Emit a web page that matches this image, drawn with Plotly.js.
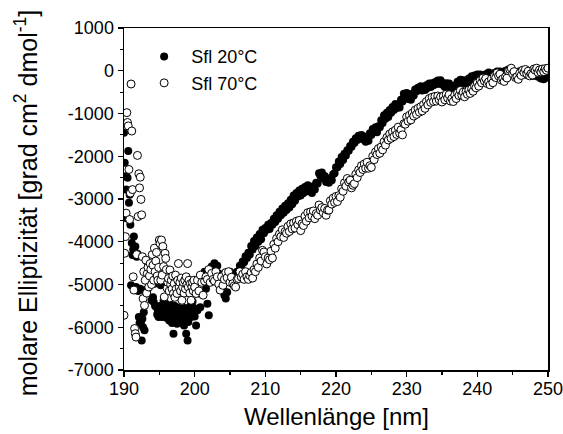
<!DOCTYPE html>
<html><head><meta charset="utf-8">
<script src="https://cdn.plot.ly/plotly-3.0.1.min.js"></script>
<style>html,body{margin:0;padding:0;background:#fff}#chart{width:563px;height:434px}</style>
</head><body><div id="chart"></div>
<script>
const seriesNames = ["Sfl 20°C", "Sfl 70°C"];
// wavelength grid of the measurement: 190–200 nm every 0.1 nm, 200.2–250 nm every 0.2 nm
const fineStart = 190, fineStep = 0.1;
const coarseStart = 200.2, coarseStep = 0.2;

const cd20Fine = [
-1450,-2150,-2470,-2780,-3450,-2500,-1880,-3090,-2900,-3600,
-5020,-4030,-4310,-4180,-3880,-4250,-4110,-5060,-4350,-4280,
-5150,-5760,-5900,-5100,-5880,-6310,-5800,-6000,-5650,-6070,
-5180,-5120,-5150,-5130,-4510,-4700,-4580,-4620,-4750,-5370,
-4820,-5300,-5410,-4980,-5500,-4780,-5530,-5700,-5650,-5760,
-5500,-5560,-5020,-5640,-5760,-5560,-5380,-5600,-5700,-5450,
-5780,-5640,-5520,-5700,-5840,-5600,-5750,-5480,-5900,-5650,
-6150,-5670,-5500,-5800,-5600,-5920,-5700,-5800,-5550,-5650,
-5850,-5600,-5760,-5900,-5700,-5960,-5550,-5800,-6150,-5700,
-6310,-5880,-5600,-5750,-5500,-5760,-5650,-5400,-5670,-5550,
-5750];
const cd20Coarse = [
-5960,-5600,-5210,-5530,-4780,-4900,-4700,-5100,-5450,-5720,
-4800,-4580,-4640,-4500,-4620,-4560,-4740,-4800,-4940,-5050,
-5250,-5330,-5180,-4760,-4700,-4840,-4780,-4860,-4820,-4700,
-4720,-4560,-4580,-4460,-4480,-4340,-4380,-4260,-4300,-4100,
-4180,-3980,-4100,-3900,-4000,-3820,-3940,-3720,-3800,-3680,
-3720,-3600,-3700,-3560,-3600,-3460,-3540,-3380,-3460,-3300,
-3380,-3220,-3320,-3160,-3260,-3100,-3200,-3020,-3120,-2920,
-3040,-2860,-2940,-2800,-2920,-2760,-2860,-2720,-2820,-2680,
-2820,-2740,-2860,-2700,-2780,-2620,-2640,-2400,-2460,-2380,
-2520,-2460,-2600,-2520,-2620,-2520,-2560,-2420,-2400,-2260,
-2260,-2120,-2180,-2020,-2090,-1940,-1980,-1860,-1870,-1760,
-1780,-1660,-1690,-1580,-1620,-1520,-1560,-1500,-1600,-1540,
-1660,-1600,-1640,-1460,-1500,-1360,-1380,-1320,-1440,-1300,
-1320,-1160,-1220,-1040,-1120,-980,-1080,-920,-980,-850,
-920,-780,-870,-800,-860,-680,-720,-540,-580,-520,
-660,-620,-680,-540,-580,-440,-480,-400,-440,-360,
-460,-400,-450,-340,-400,-300,-380,-290,-340,-270,
-310,-230,-300,-220,-320,-300,-380,-290,-350,-300,
-400,-360,-430,-350,-380,-260,-300,-210,-270,-220,
-300,-230,-270,-180,-220,-130,-180,-110,-160,-90,
-130,-90,-150,-120,-170,-80,-120,-40,-100,-80,
-120,-50,-90,-20,-60,-20,-90,-40,-70,0,
-40,30,-40,-20,-90,-60,-130,-50,-80,-10,
-40,20,-50,-20,-100,-50,-120,-80,-120,-40,
-110,-70,-140,-100,-180,-140,-200,-120,-160,-110];

const cd70Fine = [
-5720,-4270,-3880,-3330,-980,-1210,-1290,-2310,-3480,-2860,
-310,-1410,-2780,-4820,-5130,-6030,-6150,-6230,-4300,-1980,
-3410,-2410,-2740,-2490,-3010,-3370,-4350,-5330,-4700,-5490,
-4900,-4430,-5200,-4740,-4600,-5060,-4800,-4510,-4650,-5000,
-4300,-4550,-4900,-4150,-4700,-4450,-4250,-4800,-4900,-4600,
-3960,-4040,-4900,-3960,-4780,-4110,-4580,-5290,-4270,-4390,
-4650,-5090,-4950,-4860,-5150,-4660,-5000,-4900,-5100,-4800,
-5210,-4980,-5300,-4780,-5100,-5210,-4900,-4510,-5060,-4950,
-5150,-4850,-5370,-5060,-4950,-5200,-4900,-5100,-4820,-5000,
-4510,-5060,-4900,-5200,-4980,-5370,-5060,-4950,-5150,-4900,
-5060];
const cd70Coarse = [
-5210,-4900,-5150,-4780,-4950,-5250,-4920,-4820,-4880,-4650,
-4950,-4740,-4880,-4920,-4700,-4820,-4990,-5130,-4820,-5020,
-4880,-4720,-4840,-4700,-4950,-4830,-4980,-5030,-5060,-4880,
-4860,-4700,-4830,-4760,-4880,-4700,-4820,-4880,-4790,-4720,
-4850,-4650,-4700,-4520,-4600,-4380,-4450,-4200,-4240,-4350,
-4520,-4380,-4420,-4220,-4380,-4060,-4150,-3920,-4000,-3820,
-3880,-3720,-3900,-3760,-3800,-3640,-3760,-3580,-3700,-3560,
-3680,-3520,-3600,-3500,-3740,-3580,-3620,-3400,-3520,-3320,
-3440,-3300,-3400,-3280,-3460,-3340,-3380,-3140,-3260,-3200,
-3320,-3220,-3380,-3260,-3260,-3040,-3120,-2980,-3080,-2940,
-3060,-2920,-2960,-2760,-2820,-2620,-2700,-2520,-2600,-2560,
-2740,-2680,-2640,-2420,-2500,-2320,-2380,-2220,-2310,-2180,
-2280,-2140,-2280,-2220,-2260,-2000,-2080,-1900,-1960,-1820,
-1930,-1780,-1850,-1660,-1740,-1560,-1620,-1480,-1580,-1430,
-1540,-1390,-1490,-1320,-1460,-1380,-1500,-1240,-1250,-1080,
-1180,-1040,-1150,-990,-1060,-920,-1020,-880,-970,-840,
-940,-790,-880,-720,-800,-650,-740,-620,-720,-600,
-710,-590,-680,-610,-730,-590,-680,-550,-640,-560,
-710,-650,-720,-570,-650,-520,-580,-460,-570,-500,
-610,-490,-550,-450,-530,-420,-480,-360,-400,-280,
-360,-230,-280,-170,-240,-180,-300,-260,-330,-190,
-280,-130,-160,-50,-120,-80,-220,-190,-250,-140,
-170,0,30,60,-70,-20,-160,-140,-200,-60,
-110,10,-40,30,-70,-10,-120,-70,-100,40,
10,60,-40,20,-30,40,-20,50,10,60];

const xTickVals = [190, 200, 210, 220, 230, 240, 250];
const xTickText = ["190", "200", "210", "220", "230", "240", "250"];
const yTickVals = [-7000, -6000, -5000, -4000, -3000, -2000, -1000, 0, 1000];
const yTickText = ["-7000", "-6000", "-5000", "-4000", "-3000", "-2000", "-1000", "0", "1000"];
const xTitle = "Wellenlänge [nm]";
const yTitle = "molare Elliptizität [grad cm<sup>2</sup> dmol<sup>-1</sup>]";

function grid(fine, coarse) {
  const xs = [];
  fine.forEach((_, i) => xs.push(+(fineStart + i * fineStep).toFixed(2)));
  coarse.forEach((_, i) => xs.push(+(coarseStart + i * coarseStep).toFixed(2)));
  return xs;
}

const FONT = '"Liberation Sans", Arial, sans-serif';

const traces = [
  {
    x: grid(cd20Fine, cd20Coarse), y: cd20Fine.concat(cd20Coarse),
    name: seriesNames[0], type: 'scatter', mode: 'markers',
    marker: {symbol: 'circle', size: 8, color: '#000', line: {width: 0}},
    cliponaxis: true
  },
  {
    x: grid(cd70Fine, cd70Coarse), y: cd70Fine.concat(cd70Coarse),
    name: seriesNames[1], type: 'scatter', mode: 'markers',
    marker: {symbol: 'circle', size: 8, color: '#fff', line: {width: 1, color: '#000'}},
    cliponaxis: true
  }
];

const axisCommon = {
  ticks: 'outside', ticklen: 5, tickwidth: 1.3, tickcolor: '#000',
  showline: true, linecolor: '#000', linewidth: 1.5, mirror: true,
  showgrid: false, zeroline: false, tickmode: 'array',
  ticklabeloverflow: 'allow',
  tickfont: {family: FONT, size: 18, color: '#000'}
};

const layout = {
  width: 563, height: 434,
  margin: {l: 124, r: 15, t: 28, b: 64, pad: 0},
  paper_bgcolor: '#fff', plot_bgcolor: '#fff',
  font: {family: FONT, color: '#000', size: 18},
  showlegend: true,
  legend: {x: 0.031, y: 0.97, xanchor: 'left', yanchor: 'top', bgcolor: 'rgba(0,0,0,0)',
           itemwidth: 44, font: {family: FONT, size: 18, color: '#000'}, tracegroupgap: 0},
  xaxis: Object.assign({}, axisCommon, {
    range: [190, 250], tickvals: xTickVals, ticktext: xTickText, ticklabelstandoff: -3,
    minor: {tickmode: 'linear', tick0: 190, dtick: 5, ticks: 'outside', ticklen: 3, tickwidth: 1.2, tickcolor: '#000', showgrid: false}
  }),
  yaxis: Object.assign({}, axisCommon, {
    range: [-7000, 1000], tickvals: yTickVals, ticktext: yTickText,
    minor: {tickmode: 'linear', tick0: 0, dtick: 500, ticks: 'outside', ticklen: 3, tickwidth: 1.2, tickcolor: '#000', showgrid: false}
  }),
  annotations: [
    {text: xTitle, xref: 'paper', yref: 'paper', x: 0.5, y: -0.135, xanchor: 'center', yanchor: 'middle',
     showarrow: false, font: {family: FONT, size: 24, color: '#000'}},
    {text: yTitle, xref: 'paper', yref: 'paper', x: -0.229, y: 0.49, xanchor: 'center', yanchor: 'middle',
     textangle: -90, showarrow: false, font: {family: FONT, size: 25, color: '#000'}}
  ]
};

Plotly.newPlot('chart', traces, layout, {staticPlot: true, displayModeBar: false});
</script>
</body></html>
